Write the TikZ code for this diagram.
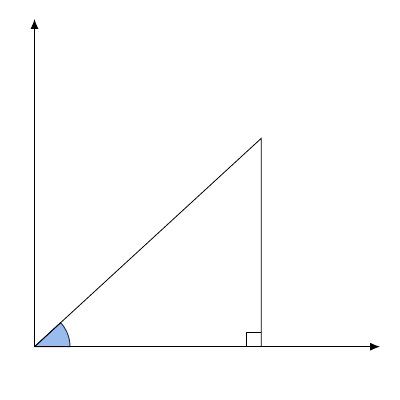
\documentclass[tikz,border=0pt]{standalone}
\usepackage{tikz}
\usetikzlibrary{arrows,arrows.meta,calc}

\begin{document}
\begin{tikzpicture}[x=1pt,y=1pt]
\tikzstyle{axis}=[line width=0.9pt,-{Latex[length=10pt,width=8pt]}]
\tikzstyle{side}=[line width=0.8pt]
\tikzstyle{angfill}=[fill={rgb,255:red,153;green,187;blue,238},draw={rgb,255:red,30;green,40;blue,70},line width=0.9pt]

\useasboundingbox (0,0) rectangle (400,400);

\coordinate (O) at (34.5,53.3);
\coordinate (A) at (261.3,261.7);
\coordinate (B) at (261.3,53.3);
\coordinate (ytop) at (34.5,381);
\coordinate (xend) at (380,53.3);

\draw [angfill] (O) -- ++(35.5,0) arc (0:42.6:35.5) -- cycle;

\draw [axis] (O) -- (ytop);
\draw [axis] (O) -- (xend);

\draw [side] (O) -- (A) -- (B);
\draw [side] ($(B)+(-14.5,0)$) -- ++(0,14.5) -- ++(14.5,0);
\end{tikzpicture}
\end{document}
